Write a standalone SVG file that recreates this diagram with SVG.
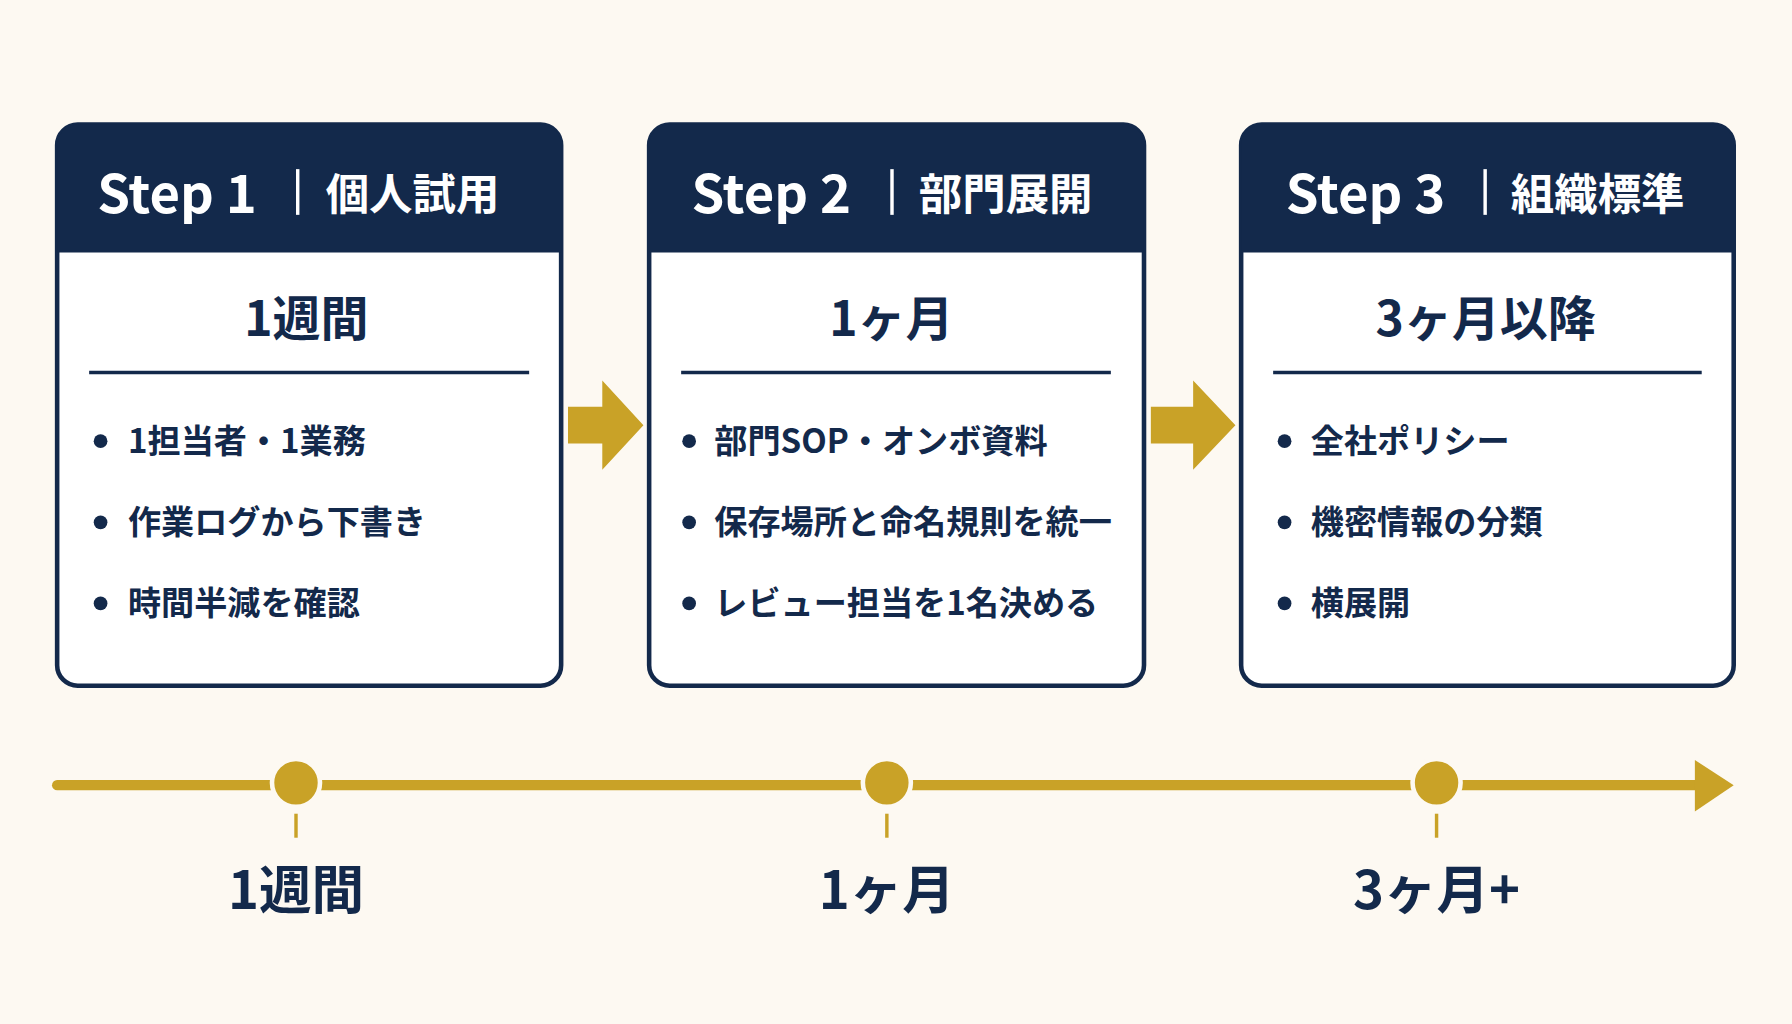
<svg xmlns="http://www.w3.org/2000/svg" width="1792" height="1024" viewBox="0 0 1792 1024">
<style>
text{font-family:"Noto Sans CJK JP","Noto Sans",sans-serif;fill:#13294b;font-weight:700}
.hd{fill:#fff;font-size:46px}
.hj{fill:#fff;font-size:38px}
.tt{font-size:42px;text-anchor:middle}
.bl{font-size:29px}
.tl{font-size:46px;text-anchor:middle}
.box{fill:#fff;stroke:#13294b;stroke-width:4}
.hdr{fill:#13294b}
.dv{stroke:#13294b;stroke-width:3}
.gold{fill:#c9a227}
</style>
<rect width="1792" height="1024" fill="#fdf9f2"/>
<g transform="scale(1.142857)">
<g id="step1">
<rect class="box" x="50" y="109" width="441" height="491" rx="18"/>
<path class="hdr" d="M50 127a18 18 0 0 1 18-18h405a18 18 0 0 1 18 18v94H50z"/>
<text class="hd" x="85" y="186">Step 1</text><rect x="259" y="148" width="3" height="40" fill="#fff"/><text class="hj" x="285" y="184">個人試用</text>
<text class="tt" x="268" y="294">1週間</text>
<line class="dv" x1="78" y1="326" x2="463" y2="326"/>
<circle cx="88" cy="386" r="6" fill="#13294b"/><text class="bl" x="112" y="396">1担当者・1業務</text>
<circle cx="88" cy="457" r="6" fill="#13294b"/><text class="bl" x="112" y="467">作業ログから下書き</text>
<circle cx="88" cy="528" r="6" fill="#13294b"/><text class="bl" x="112" y="538">時間半減を確認</text>
</g>
<g id="step2">
<rect class="box" x="568" y="109" width="433" height="491" rx="18"/>
<path class="hdr" d="M568 127a18 18 0 0 1 18-18h397a18 18 0 0 1 18 18v94H568z"/>
<text class="hd" x="605" y="186">Step 2</text><rect x="779" y="148" width="3" height="40" fill="#fff"/><text class="hj" x="804" y="184">部門展開</text>
<text class="tt" x="780" y="294">1ヶ月</text>
<line class="dv" x1="596" y1="326" x2="972" y2="326"/>
<circle cx="603" cy="386" r="6" fill="#13294b"/><text class="bl" x="625" y="396">部門SOP・オンボ資料</text>
<circle cx="603" cy="457" r="6" fill="#13294b"/><text class="bl" x="625" y="467">保存場所と命名規則を統一</text>
<circle cx="603" cy="528" r="6" fill="#13294b"/><text class="bl" x="625" y="538">レビュー担当を1名決める</text>
</g>
<g id="step3">
<rect class="box" x="1086" y="109" width="431" height="491" rx="18"/>
<path class="hdr" d="M1086 127a18 18 0 0 1 18-18h395a18 18 0 0 1 18 18v94H1086z"/>
<text class="hd" x="1125" y="186">Step 3</text><rect x="1298" y="148" width="3" height="40" fill="#fff"/><text class="hj" x="1322" y="184">組織標準</text>
<text class="tt" x="1300" y="294">3ヶ月以降</text>
<line class="dv" x1="1114" y1="326" x2="1489" y2="326"/>
<circle cx="1124" cy="386" r="6" fill="#13294b"/><text class="bl" x="1147" y="396">全社ポリシー</text>
<circle cx="1124" cy="457" r="6" fill="#13294b"/><text class="bl" x="1147" y="467">機密情報の分類</text>
<circle cx="1124" cy="528" r="6" fill="#13294b"/><text class="bl" x="1147" y="538">横展開</text>
</g>
<g id="connectors">
<polygon class="gold" points="497,356 527,356 527,333 563,372 527,411 527,388 497,388"/>
<polygon class="gold" points="1007,356 1044,356 1044,333 1081,372 1044,411 1044,388 1007,388"/>
<line x1="50" y1="687" x2="1490" y2="687" stroke="#c9a227" stroke-width="9" stroke-linecap="round"/>
<polygon class="gold" points="1483,665 1517,687 1483,710"/>
<g stroke="#fdf9f2" stroke-width="4">
<circle class="gold" cx="259" cy="685" r="21"/><circle class="gold" cx="776" cy="685" r="21"/><circle class="gold" cx="1257" cy="685" r="21"/>
</g>
<g stroke="#c9a227" stroke-width="3"><line x1="259" y1="712" x2="259" y2="733"/><line x1="776" y1="712" x2="776" y2="733"/><line x1="1257" y1="712" x2="1257" y2="733"/></g>
</g>
<g id="labels">
<text class="tl" x="259" y="795">1週間</text>
<text class="tl" x="776" y="795">1ヶ月</text>
<text class="tl" x="1257" y="795">3ヶ月+</text>
</g>
</g>
</svg>
